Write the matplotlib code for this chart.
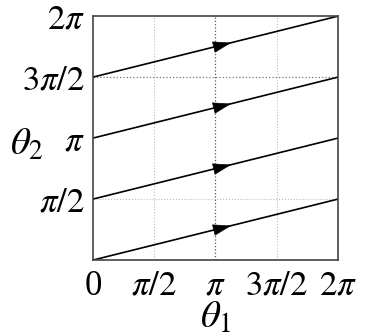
import matplotlib
matplotlib.use("Agg")
import matplotlib.pyplot as plt
import numpy as np

PI = np.pi

# line endpoints (theta1 from 0 to 2pi)
theta1_ends = [0.0, 2 * PI]
theta2_start = [0.0, PI / 2, PI, 3 * PI / 2]
theta2_end = [PI / 2, PI, 3 * PI / 2, 2 * PI]

# arrow heads sit at theta1 = pi
arrow_theta1 = PI
arrow_theta2 = [PI / 4, 3 * PI / 4, 5 * PI / 4, 7 * PI / 4]

tick_vals = [0, PI / 2, PI, 3 * PI / 2, 2 * PI]
x_tick_labels = ["0", r"$\pi/2$", r"$\pi$", r"$3\pi/2$", r"$2\pi$"]
y_tick_labels = ["", r"$\pi/2$", r"$\pi$", r"$3\pi/2$", r"$2\pi$"]

plt.rcParams["font.family"] = "Liberation Serif"
plt.rcParams["mathtext.fontset"] = "stix"

fig = plt.figure(figsize=(3.69, 3.36), dpi=100)
ax = fig.add_axes([0.252, 0.226, 0.664, 0.726])

# grid
for gx in [PI / 2, 3 * PI / 2]:
    ax.axvline(gx, color="#bbbbbb", lw=0.8, ls=":", zorder=0)
ax.axvline(PI, color="#555555", lw=0.9, ls=":", zorder=0)
ax.axhline(PI / 2, color="#bbbbbb", lw=0.8, ls=":", zorder=0)
ax.axhline(3 * PI / 2, color="#777777", lw=0.9, ls=":", zorder=0)

for y0, y1 in zip(theta2_start, theta2_end):
    ax.plot(theta1_ends, [y0, y1], color="black", lw=1.2, zorder=2)

slope = (theta2_end[0] - theta2_start[0]) / (theta1_ends[1] - theta1_ends[0])
dx = 0.4
for ya in arrow_theta2:
    ax.annotate("", xy=(arrow_theta1 + dx, ya + slope * dx), xytext=(arrow_theta1, ya),
                arrowprops=dict(arrowstyle="-|>,head_length=1.2,head_width=0.38",
                                color="black", lw=0.5, shrinkA=0, shrinkB=0),
                zorder=3)

ax.set_xlim(0, 2 * PI)
ax.set_ylim(0, 2 * PI)
ax.set_xticks(tick_vals)
ax.set_xticklabels(x_tick_labels)
ax.set_yticks(tick_vals)
ax.set_yticklabels(y_tick_labels)
ax.tick_params(length=0, labelsize=25)
ax.tick_params(axis="x", pad=7)
ax.tick_params(axis="y", pad=6)

for s in ax.spines.values():
    s.set_color("#444444")
    s.set_linewidth(1.2)

ax.text(0.5, -0.238, r"$\theta_1$", transform=ax.transAxes, fontsize=28,
        ha="center", va="center")
ax.text(-0.27, 0.47, r"$\theta_2$", transform=ax.transAxes, fontsize=28,
        ha="center", va="center")

fig.savefig("out.png", dpi=100)
